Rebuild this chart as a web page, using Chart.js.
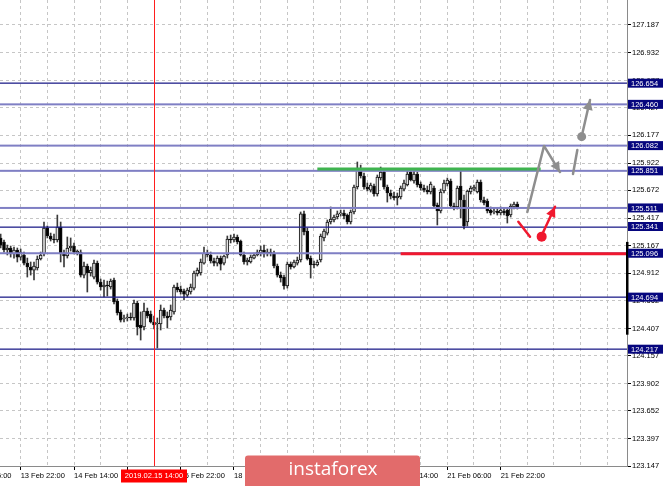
<!DOCTYPE html>
<html>
<head>
<meta charset="utf-8">
<script src="https://cdn.jsdelivr.net/npm/chart.js@4.4.1/dist/chart.umd.min.js"></script>
<style>
  html, body { margin: 0; padding: 0; background: #fff; }
  #wrap { position: relative; width: 665px; height: 486px; overflow: hidden; }
</style>
</head>
<body>
<div id="wrap"><canvas id="chart" width="665" height="486"></canvas></div>
<script>
// H1 candles, bar index 0 = 2019.02.15 14:00
const firstBar = -46;

const opens = [
  125.236, 125.199, 125.126, 125.144, 125.089, 125.126, 125.061, 125.080, 125.006, 124.970,
  124.942, 124.961, 125.043, 125.089, 125.327, 125.254, 125.226, 125.217, 125.336, 125.089,
  125.071, 125.144, 125.162, 125.098, 125.107, 124.896, 124.979, 124.915, 124.878, 125.006,
  124.832, 124.787, 124.805, 124.787, 124.851, 124.658, 124.558, 124.494, 124.503, 124.512,
  124.503, 124.640, 124.439, 124.420, 124.567, 124.539, 124.466, 124.448, 124.448, 124.576,
  124.521, 124.512, 124.558, 124.787, 124.768, 124.750, 124.713, 124.741, 124.777, 124.906,
  124.915, 125.006, 125.098, 125.080, 125.025, 125.006, 125.052, 125.006, 125.080, 125.226,
  125.217, 125.245, 125.208, 125.080, 125.016, 125.016, 125.052, 125.080, 125.098, 125.126,
  125.089, 125.107, 125.098, 124.979, 124.896, 124.878, 124.796, 124.997, 124.970, 125.006,
  125.034, 125.456, 125.300, 125.052, 124.997, 124.988, 125.034, 125.236, 125.281, 125.382,
  125.401, 125.428, 125.456, 125.465, 125.446, 125.382, 125.474, 125.703, 125.868, 125.804,
  125.703, 125.675, 125.712, 125.639, 125.785, 125.840, 125.703, 125.648, 125.620, 125.602,
  125.611, 125.684, 125.721, 125.840, 125.758, 125.822, 125.730, 125.694, 125.675, 125.657,
  125.694, 125.538, 125.483, 125.666, 125.730, 125.758, 125.529, 125.520, 125.712, 125.584,
  125.382, 125.657, 125.684, 125.657, 125.749, 125.584, 125.575, 125.492, 125.474, 125.483,
  125.465, 125.483, 125.492, 125.446, 125.520, 125.547
];
const highs = [
  125.272, 125.217, 125.171, 125.162, 125.153, 125.144, 125.135, 125.107, 125.052, 125.016,
  125.016, 125.071, 125.107, 125.382, 125.346, 125.281, 125.272, 125.446, 125.382, 125.126,
  125.245, 125.236, 125.190, 125.126, 125.126, 125.016, 124.997, 124.970, 125.034, 125.025,
  124.860, 124.851, 124.841, 124.860, 124.869, 124.677, 124.576, 124.530, 124.539, 124.549,
  124.668, 124.658, 124.558, 124.640, 124.594, 124.567, 124.521, 124.503, 124.622, 124.594,
  124.558, 124.622, 124.805, 124.823, 124.796, 124.768, 124.777, 124.814, 124.933, 124.961,
  125.043, 125.153, 125.126, 125.107, 125.052, 125.071, 125.071, 125.080, 125.254, 125.263,
  125.272, 125.263, 125.217, 125.107, 125.052, 125.080, 125.098, 125.126, 125.162, 125.171,
  125.135, 125.135, 125.116, 124.997, 124.924, 124.896, 125.016, 125.016, 125.034, 125.061,
  125.474, 125.483, 125.327, 125.071, 125.025, 125.034, 125.272, 125.318, 125.401, 125.520,
  125.446, 125.483, 125.492, 125.492, 125.456, 125.492, 125.721, 125.932, 125.904, 125.831,
  125.739, 125.739, 125.730, 125.813, 125.886, 125.859, 125.721, 125.675, 125.657, 125.648,
  125.712, 125.767, 125.849, 125.868, 125.849, 125.840, 125.749, 125.721, 125.712, 125.749,
  125.712, 125.556, 125.684, 125.767, 125.785, 125.776, 125.556, 125.712, 125.859, 125.630,
  125.675, 125.712, 125.721, 125.767, 125.767, 125.611, 125.593, 125.520, 125.511, 125.511,
  125.520, 125.511, 125.511, 125.547, 125.565, 125.565
];
const lows = [
  125.144, 125.107, 125.080, 125.061, 125.052, 125.016, 125.034, 124.988, 124.878, 124.896,
  124.851, 124.942, 125.034, 125.071, 125.236, 125.208, 125.190, 125.199, 125.016, 124.970,
  125.052, 125.116, 125.089, 125.080, 124.878, 124.869, 124.741, 124.887, 124.860, 124.814,
  124.759, 124.695, 124.704, 124.768, 124.631, 124.530, 124.466, 124.466, 124.475, 124.484,
  124.484, 124.347, 124.301, 124.393, 124.503, 124.457, 124.402, 124.228, 124.393, 124.503,
  124.411, 124.484, 124.539, 124.741, 124.722, 124.668, 124.695, 124.722, 124.759, 124.887,
  124.896, 124.997, 125.061, 125.006, 124.979, 124.979, 124.942, 124.988, 125.052, 125.190,
  125.199, 125.181, 125.071, 124.997, 124.988, 125.006, 125.043, 125.071, 125.071, 125.061,
  125.071, 125.071, 124.961, 124.878, 124.832, 124.768, 124.777, 124.951, 124.961, 124.988,
  125.016, 125.263, 125.034, 124.869, 124.961, 124.979, 125.016, 125.208, 125.263, 125.364,
  125.382, 125.410, 125.437, 125.410, 125.364, 125.364, 125.456, 125.684, 125.785, 125.684,
  125.666, 125.657, 125.620, 125.620, 125.767, 125.684, 125.565, 125.593, 125.584, 125.538,
  125.593, 125.666, 125.712, 125.758, 125.739, 125.703, 125.675, 125.657, 125.639, 125.639,
  125.511, 125.355, 125.465, 125.648, 125.712, 125.511, 125.492, 125.501, 125.419, 125.318,
  125.346, 125.639, 125.666, 125.648, 125.565, 125.538, 125.465, 125.446, 125.456, 125.446,
  125.446, 125.446, 125.373, 125.428, 125.501, 125.501
];
const closes = [
  125.171, 125.126, 125.144, 125.089, 125.126, 125.061, 125.107, 125.006, 124.970, 124.942,
  124.979, 125.043, 125.080, 125.327, 125.254, 125.226, 125.217, 125.336, 125.089, 125.071,
  125.144, 125.162, 125.107, 125.116, 124.896, 124.979, 124.915, 124.942, 125.006, 124.832,
  124.787, 124.805, 124.796, 124.841, 124.649, 124.549, 124.484, 124.503, 124.512, 124.503,
  124.640, 124.420, 124.411, 124.567, 124.521, 124.466, 124.439, 124.457, 124.576, 124.521,
  124.503, 124.576, 124.787, 124.759, 124.741, 124.722, 124.759, 124.787, 124.915, 124.942,
  125.016, 125.098, 125.080, 125.025, 125.006, 125.052, 124.997, 125.071, 125.226, 125.217,
  125.245, 125.199, 125.080, 125.016, 125.034, 125.061, 125.080, 125.107, 125.126, 125.089,
  125.107, 125.098, 124.979, 124.896, 124.869, 124.796, 124.997, 124.970, 125.016, 125.034,
  125.456, 125.291, 125.043, 124.988, 124.988, 125.016, 125.254, 125.300, 125.382, 125.410,
  125.428, 125.456, 125.465, 125.437, 125.382, 125.474, 125.703, 125.868, 125.804, 125.703,
  125.684, 125.721, 125.639, 125.794, 125.840, 125.703, 125.648, 125.620, 125.602, 125.620,
  125.694, 125.739, 125.822, 125.767, 125.822, 125.721, 125.694, 125.675, 125.657, 125.730,
  125.529, 125.483, 125.657, 125.739, 125.767, 125.529, 125.511, 125.694, 125.584, 125.346,
  125.666, 125.694, 125.703, 125.749, 125.584, 125.556, 125.483, 125.465, 125.483, 125.465,
  125.492, 125.465, 125.437, 125.529, 125.547, 125.520
];

// axes
const yTicks = [127.187, 126.932, 126.677, 126.427, 126.177, 125.922, 125.672, 125.417, 125.167,
  124.912, 124.662, 124.407, 124.157, 123.902, 123.652, 123.397, 123.147];
const gridBars = [-40, -32, -24, -16, -8, 0, 8, 16, 24, 32, 40, 48, 56, 64, 72, 80, 88, 96, 104, 112, 120, 128, 136];
const xTickBars = [-56, -40, -24, -8, 8, 24, 40, 56, 72, 88, 104];
const xTickLabels = ['13 Feb 06:00', '13 Feb 22:00', '14 Feb 14:00', '15 Feb 06:00', '15 Feb 22:00',
  '18 Feb 14:00', '19 Feb 06:00', '19 Feb 22:00', '20 Feb 14:00', '21 Feb 06:00', '21 Feb 22:00'];

// horizontal levels
const levelsDark = [126.654, 125.341, 124.694, 124.217];
const levelsLight = [126.460, 126.082, 125.851, 125.511, 125.096];

// drawn objects, points are [bar, price]
const cursorBar = 0;
const cursorLabel = '2019.02.15 14:00';
const greenLine = [[49, 125.868], [116, 125.868]];
const redLine = [[74, 125.092], [142, 125.092]];
const grayPath = [[112, 125.474], [117, 126.079], [121.8, 125.840]];
const graySeg = [[125.7, 125.822], [127, 126.042]];
const grayDot = [128.3, 126.164];
const grayArrow = [[128.4, 126.18], [130.8, 126.500]];
const redSeg = [[109.3, 125.385], [112.8, 125.248]];
const redDot = [116.3, 125.248];
const redArrow = [[116.6, 125.28], [120.3, 125.522]];
const axisMark = [124.35, 125.20];

const FONT = '"Liberation Sans", Arial, sans-serif';

const bodies = opens.map((o, k) => ({ x: firstBar + k, y: [o, closes[k]] }));
const wicks = opens.map((o, k) => ({ x: firstBar + k, y: [lows[k], highs[k]] }));

function polyline(ctx, pts, x, y, color, width) {
  ctx.strokeStyle = color;
  ctx.lineWidth = width;
  ctx.lineJoin = 'round';
  ctx.beginPath();
  pts.forEach((p, k) => {
    const px = x.getPixelForValue(p[0]), py = y.getPixelForValue(p[1]);
    if (k === 0) ctx.moveTo(px, py); else ctx.lineTo(px, py);
  });
  ctx.stroke();
}

function arrowHead(ctx, pts, x, y, color) {
  const a = pts[pts.length - 2], b = pts[pts.length - 1];
  const x1 = x.getPixelForValue(a[0]), y1 = y.getPixelForValue(a[1]);
  const x2 = x.getPixelForValue(b[0]), y2 = y.getPixelForValue(b[1]);
  const ang = Math.atan2(y2 - y1, x2 - x1);
  const len = 10, half = 5;
  ctx.fillStyle = color;
  ctx.beginPath();
  ctx.moveTo(x2, y2);
  ctx.lineTo(x2 - len * Math.cos(ang) + half * Math.sin(ang), y2 - len * Math.sin(ang) - half * Math.cos(ang));
  ctx.lineTo(x2 - len * Math.cos(ang) - half * Math.sin(ang), y2 - len * Math.sin(ang) + half * Math.cos(ang));
  ctx.closePath();
  ctx.fill();
}

function dot(ctx, p, x, y, r, color) {
  ctx.fillStyle = color;
  ctx.beginPath();
  ctx.arc(x.getPixelForValue(p[0]), y.getPixelForValue(p[1]), r, 0, Math.PI * 2);
  ctx.fill();
}

// no extra padding for end labels, so the plot fills the frame like the terminal
function noPad(s) {
  s.paddingTop = 0; s.paddingBottom = 0; s.paddingLeft = 0; s.paddingRight = 0;
}

const overlay = {
  id: 'overlay',
  afterDatasetsDraw(chart) {
    const { ctx, chartArea: a, scales: { x, y } } = chart;
    ctx.save();
    ctx.beginPath();
    ctx.rect(a.left, a.top, a.right - a.left, a.bottom - a.top);
    ctx.clip();

    levelsLight.forEach(p => {
      const py = y.getPixelForValue(p);
      ctx.fillStyle = '#7f7fc4';
      ctx.fillRect(a.left, py - 1, a.right - a.left, 2);
    });
    levelsDark.forEach(p => {
      const py = Math.round(y.getPixelForValue(p));
      ctx.fillStyle = '#22228c';
      ctx.fillRect(a.left, py - 0.5, a.right - a.left, 1.3);
    });

    // cursor line
    const cx = Math.round(x.getPixelForValue(cursorBar)) + 0.5;
    ctx.strokeStyle = '#ff1e1e';
    ctx.lineWidth = 1;
    ctx.beginPath();
    ctx.moveTo(cx, a.top);
    ctx.lineTo(cx, a.bottom);
    ctx.stroke();

    ctx.lineCap = 'butt';
    polyline(ctx, greenLine, x, y, '#3fb34f', 3);
    polyline(ctx, redLine, x, y, '#f0182e', 3);

    ctx.lineCap = 'round';
    polyline(ctx, grayPath, x, y, '#8e8e8e', 2.5);
    arrowHead(ctx, grayPath, x, y, '#8e8e8e');
    polyline(ctx, graySeg, x, y, '#8e8e8e', 2.5);
    dot(ctx, grayDot, x, y, 4.5, '#8e8e8e');
    polyline(ctx, grayArrow, x, y, '#8e8e8e', 2.5);
    arrowHead(ctx, grayArrow, x, y, '#8e8e8e');

    polyline(ctx, redSeg, x, y, '#f0182e', 2.5);
    dot(ctx, redDot, x, y, 5, '#f0182e');
    polyline(ctx, redArrow, x, y, '#f0182e', 2.5);
    arrowHead(ctx, redArrow, x, y, '#f0182e');
    ctx.restore();
  },
  afterDraw(chart) {
    const { ctx, chartArea: a, scales: { x, y } } = chart;
    ctx.save();
    ctx.font = '7.5px ' + FONT;
    ctx.textBaseline = 'middle';

    // black mark on the price axis
    const m1 = y.getPixelForValue(axisMark[1]), m2 = y.getPixelForValue(axisMark[0]);
    ctx.fillStyle = '#000';
    ctx.fillRect(a.right - 1, m1, 2.5, m2 - m1);

    // level price boxes
    levelsDark.concat(levelsLight).forEach(p => {
      const py = y.getPixelForValue(p);
      ctx.fillStyle = '#06067e';
      ctx.fillRect(a.right + 1, py - 4.5, 35, 9);
      ctx.fillStyle = '#fff';
      ctx.textAlign = 'left';
      ctx.fillText(p.toFixed(3), a.right + 4, py + 0.5);
    });

    // time label that starts left of the chart
    ctx.fillStyle = '#000';
    ctx.textAlign = 'left';
    ctx.fillText(xTickLabels[0], x.getPixelForValue(xTickBars[0]), 476);

    // cursor time box
    const cx = x.getPixelForValue(cursorBar);
    ctx.fillStyle = '#ff0000';
    ctx.fillRect(cx - 33, 469.5, 66, 13);
    ctx.fillStyle = '#fff';
    ctx.textAlign = 'center';
    ctx.fillText(cursorLabel, cx, 476);

    // watermark
    ctx.fillStyle = '#e26b6b';
    ctx.beginPath();
    ctx.roundRect(245, 455.5, 175, 36, 3);
    ctx.fill();
    ctx.fillStyle = '#fff';
    ctx.font = '19px "Open Sans", sans-serif';
    ctx.textAlign = 'center';
    ctx.fillText('instaforex', 333, 470);
    ctx.restore();
  }
};

new Chart(document.getElementById('chart'), {
  type: 'bar',
  data: {
    datasets: [
      { data: wicks, backgroundColor: '#3a3a3a', barThickness: 1, grouped: false, order: 2 },
      {
        data: bodies, barThickness: 3, grouped: false, order: 1,
        borderWidth: 1, borderSkipped: false, borderColor: '#111', minBarLength: 1,
        backgroundColor: c => closes[c.dataIndex] >= opens[c.dataIndex] ? '#e4e4e4' : '#000'
      }
    ]
  },
  options: {
    responsive: false,
    animation: false,
    layout: { padding: 0 },
    plugins: { legend: { display: false }, tooltip: { enabled: false } },
    scales: {
      x: {
        type: 'linear',
        min: -46.2,
        max: 141.9,
        offset: false,
        afterBuildTicks: s => { s.ticks = gridBars.map(v => ({ value: v })); },
        afterFit: s => { s.height = 20; noPad(s); },
        grid: {
          offset: false,
          color: '#c6c6c6',
          tickLength: 4,
          tickColor: c => xTickBars.includes(c.tick && c.tick.value) ? '#000' : 'rgba(0,0,0,0)',
          tickBorderDash: []
        },
        border: { color: '#8a8a8a', width: 1, dash: [3, 3] },
        ticks: {
          autoSkip: false,
          maxRotation: 0,
          align: 'start',
          padding: 1,
          color: '#000',
          font: { family: FONT, size: 7.5 },
          callback: v => {
            const k = xTickBars.indexOf(v);
            return k > 0 ? xTickLabels[k] : '';
          }
        }
      },
      y: {
        position: 'right',
        min: 123.147,
        max: 127.416,
        beginAtZero: false,
        afterBuildTicks: s => { s.ticks = yTicks.map(v => ({ value: v })); },
        afterFit: s => { s.width = 38; noPad(s); },
        grid: { color: '#c6c6c6', tickLength: 4, tickColor: '#000', tickBorderDash: [] },
        border: { color: '#8a8a8a', width: 1, dash: [3, 3] },
        ticks: {
          padding: 1,
          color: '#000',
          font: { family: FONT, size: 7.5 },
          callback: v => v.toFixed(3)
        }
      }
    }
  },
  plugins: [overlay]
});
</script>
</body>
</html>
